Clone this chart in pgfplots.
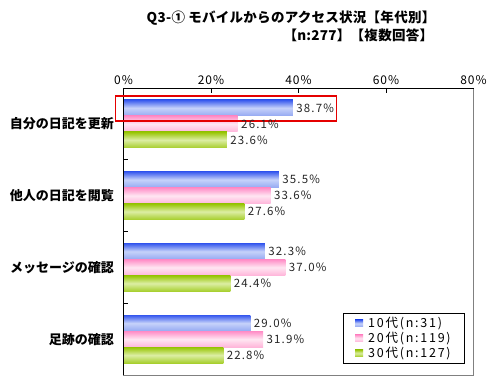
\documentclass[border=0pt]{standalone}
\usepackage{fontspec}
\setmainfont{Noto Sans CJK JP}
\usepackage{pgfplots}
\pgfplotsset{compat=1.18}
\definecolor{bTop}{HTML}{3658EE}
\definecolor{bMid}{HTML}{C6D2FA}
\definecolor{bBot}{HTML}{95A9F2}
\definecolor{pTop}{HTML}{FF8CC6}
\definecolor{pMid}{HTML}{FFE6F2}
\definecolor{pBot}{HTML}{FFB5DA}
\definecolor{gTop}{HTML}{96C400}
\definecolor{gMid}{HTML}{DCEEA4}
\definecolor{gBot}{HTML}{A6CE2C}
\tikzset{
  bluebar/.style={draw=none,top color=bTop,bottom color=bBot,middle color=bMid},
  pinkbar/.style={draw=none,top color=pTop,bottom color=pBot,middle color=pMid},
  greenbar/.style={draw=none,top color=gTop,bottom color=gBot,middle color=gMid},
}
\begin{document}
\begin{tikzpicture}
\path[use as bounding box] (0pt,0pt) rectangle (495pt,-382pt);
\node[font=\fontsize{13.5}{13.5}\selectfont\bfseries\addfontfeatures{LetterSpace=2}] at (291pt,-18pt) {Q3-① モバイルからのアクセス状況【年代別】};
\node[font=\fontsize{13.5}{13.5}\selectfont\bfseries\addfontfeatures{LetterSpace=2},anchor=west] at (280pt,-35pt) {【n:277】【複数回答】};
\begin{axis}[
  at={(123.5pt,-375pt)}, anchor=south west,
  scale only axis, width=350pt, height=287pt,
  xbar, point meta=x,
  xmin=0, xmax=80, ymin=-0.5, ymax=3.5,
  clip=false,
  xtick={0,20,40,60,80}, xtick pos=upper, xticklabel pos=upper,
  xticklabel={\pgfmathprintnumber{\tick}\%},
  /pgf/number format/assume math mode=true,
  xticklabel style={font=\fontsize{12}{12}\selectfont\addfontfeatures{LetterSpace=8}},
  ytick={0.5,1.5,2.5}, yticklabels={}, ytick pos=left,
  extra y ticks={0,1,2,3},
  extra y tick labels={足跡の確認,メッセージの確認,他人の日記を閲覧,自分の日記を更新},
  extra y tick style={major tick length=0pt, yticklabel style={font=\fontsize{13}{13}\selectfont\bfseries, xshift=-6pt}},
  tick align=inside, major tick length=5pt,
  tick style={black, line width=0.8pt},
  axis line style={gray, line width=0.8pt},
  bar width=0.223,
  nodes near coords={\pgfmathprintnumber[fixed,fixed zerofill,precision=1]{\pgfplotspointmeta}\%},
  nodes near coords style={font=\fontsize{11.5}{11.5}\selectfont\addfontfeatures{LetterSpace=10}, text=black!85, /pgf/number format/assume math mode=true},
  legend style={at={(0.976,0.216)}, anchor=north east, draw=black, line width=0.8pt,
    font=\fontsize{12.5}{12.5}\selectfont\addfontfeatures{LetterSpace=14}, inner xsep=12pt, inner ysep=2pt, row sep=-1pt,
    cells={anchor=west}, /tikz/every odd column/.append style={column sep=3pt}},
  legend image code/.code={\fill[#1] (0pt,-3.5pt) rectangle (8pt,3.5pt);},
]
\addplot[bluebar, bar shift=0.223] coordinates {(38.7,3)};
\addplot[pinkbar, bar shift=0] coordinates {(26.1,3)};
\addplot[greenbar, bar shift=-0.223] coordinates {(23.6,3)};
\legend{10代(n:31),20代(n:119),30代(n:127)}
\addplot[bluebar, bar shift=0.223, forget plot] coordinates {(35.5,2)};
\addplot[bluebar, bar shift=0.223, forget plot] coordinates {(32.3,1)};
\addplot[bluebar, bar shift=0.223, forget plot] coordinates {(29.0,0)};
\addplot[pinkbar, bar shift=0, forget plot] coordinates {(33.6,2)};
\addplot[pinkbar, bar shift=0, forget plot] coordinates {(37.0,1)};
\addplot[pinkbar, bar shift=0, forget plot] coordinates {(31.9,0)};
\addplot[greenbar, bar shift=-0.223, forget plot] coordinates {(27.6,2)};
\addplot[greenbar, bar shift=-0.223, forget plot] coordinates {(24.4,1)};
\addplot[greenbar, bar shift=-0.223, forget plot] coordinates {(22.8,0)};
\draw[black, line width=0.8pt] (rel axis cs:0,0) -- (rel axis cs:0,1) -- (rel axis cs:1,1);
\draw[red!90!black, line width=1.6pt] (axis cs:-1.83,3.389) rectangle (axis cs:48.7,3.04);
\end{axis}
\end{tikzpicture}
\end{document}
